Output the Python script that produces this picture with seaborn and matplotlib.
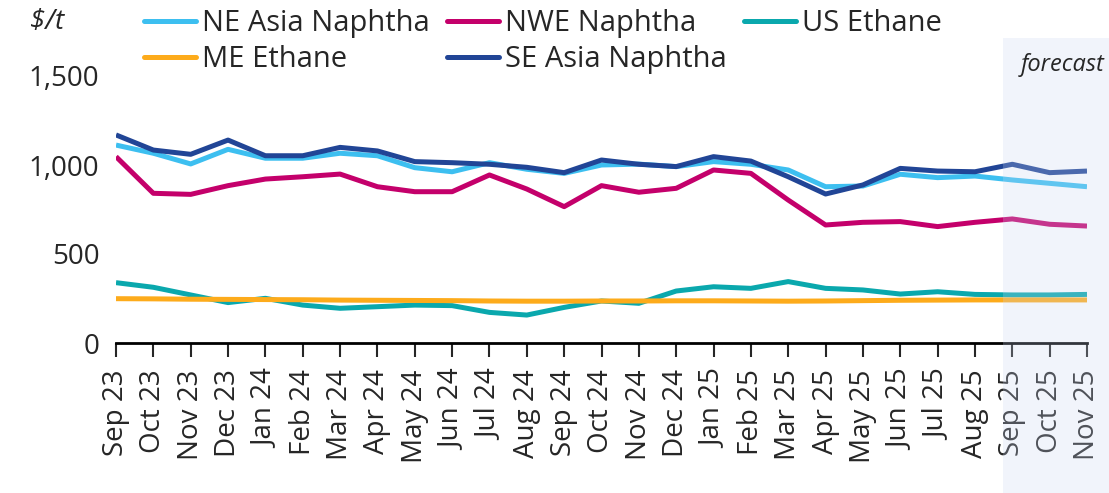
import pandas as pd
import matplotlib.pyplot as plt
import seaborn as sns
from matplotlib.lines import Line2D
from matplotlib.patches import Rectangle
from matplotlib.ticker import FuncFormatter

# -----------------------------
# Data ($/t)
# -----------------------------
months = ["Sep 23", "Oct 23", "Nov 23", "Dec 23", "Jan 24", "Feb 24", "Mar 24",
          "Apr 24", "May 24", "Jun 24", "Jul 24", "Aug 24", "Sep 24", "Oct 24",
          "Nov 24", "Dec 24", "Jan 25", "Feb 25", "Mar 25", "Apr 25", "May 25",
          "Jun 25", "Jul 25", "Aug 25", "Sep 25", "Oct 25", "Nov 25"]

ne_asia_naphtha = [1112, 1066, 1006, 1088, 1038, 1038, 1066, 1052, 985, 962, 1013, 976, 953,
                   1000, 1005, 991, 1019, 1004, 972, 878, 882, 948, 929, 938, 916, 897, 878]
nwe_naphtha = [1047, 841, 835, 884, 921, 934, 949, 878, 850, 850, 944, 865, 766,
               884, 847, 869, 972, 953, 803, 663, 678, 682, 654, 678, 697, 667, 657]
us_ethane = [339, 313, 270, 227, 251, 213, 195, 204, 213, 210, 172, 157, 200,
             236, 223, 292, 316, 307, 345, 307, 298, 275, 288, 273, 270, 270, 273]
me_ethane = [249, 248, 246, 245, 244, 243, 241, 240, 239, 238, 236, 235, 235,
             236, 236, 237, 237, 236, 235, 236, 238, 240, 241, 242, 242, 242, 242]
se_asia_naphtha = [1169, 1084, 1060, 1140, 1052, 1052, 1099, 1079, 1019, 1013, 1004, 987, 957,
                   1028, 1004, 991, 1047, 1022, 934, 837, 888, 981, 966, 962, 1004, 957, 966]

series_names = ["NE Asia Naphtha", "NWE Naphtha", "US Ethane", "ME Ethane", "SE Asia Naphtha"]
colors = ["#3dbff0", "#c4006b", "#0aa8ad", "#fdab1b", "#214596"]

wide = pd.DataFrame({
    "month": months,
    "NE Asia Naphtha": ne_asia_naphtha,
    "NWE Naphtha": nwe_naphtha,
    "US Ethane": us_ethane,
    "ME Ethane": me_ethane,
    "SE Asia Naphtha": se_asia_naphtha,
})
wide["idx"] = range(len(months))
df = wide.melt(id_vars=["month", "idx"], value_vars=series_names,
               var_name="series", value_name="price")

# -----------------------------
# Style
# -----------------------------
sns.set_style("white")
plt.rcParams["font.family"] = ["Open Sans", "DejaVu Sans"]
plt.rcParams["lines.solid_capstyle"] = "butt"

fig = plt.figure(figsize=(11.09, 4.93), dpi=100)
ax = fig.add_axes([116 / 1109, 1 - 343 / 493, (1087 - 116) / 1109, (343 - 76) / 493])

sns.lineplot(data=df, x="idx", y="price", hue="series", hue_order=series_names,
             palette=colors, linewidth=3.6, ax=ax, legend=False)

ax.set_xlim(0, len(months) - 1)
ax.set_ylim(0, 1500)
ax.set_xticks(range(len(months)))
ax.set_xticklabels(months, rotation=90, fontsize=20)
ax.set_yticks([0, 500, 1000, 1500])
ax.yaxis.set_major_formatter(FuncFormatter(lambda v, p: f"{int(v):,}"))
ax.tick_params(axis="y", length=0, labelsize=20, pad=12)
ax.tick_params(axis="x", length=10, width=1.5, direction="out", pad=9, bottom=True)
ax.set_xlabel("")
ax.set_ylabel("")
for side in ["left", "right", "top"]:
    ax.spines[side].set_visible(False)
ax.spines["bottom"].set_linewidth(2)
ax.spines["bottom"].set_color("black")

# legend (column-major fill -> reorder handles)
color_of = dict(zip(series_names, colors))
order = ["NE Asia Naphtha", "ME Ethane", "NWE Naphtha", "SE Asia Naphtha", "US Ethane"]
handles = [Line2D([], [], color=color_of[n], linewidth=3.6, solid_capstyle="round")
           for n in order]
fig.legend(handles, order, ncol=3, frameon=False, fontsize=21,
           loc="upper left", bbox_to_anchor=(144 / 1109, 1 - 9 / 493), borderpad=0,
           borderaxespad=0, handlelength=1.78, handletextpad=0.2, columnspacing=0.6,
           labelspacing=0.25)

fig.text(47 / 1109, 1 - 22 / 493, "$/t", fontsize=20, style="italic",
         ha="center", va="center")

# forecast shading
fx = 1003 / 1109
fig.patches.append(Rectangle((fx, 0), 1 - fx, 1 - 38 / 493, transform=fig.transFigure,
                             facecolor=(203 / 255, 215 / 255, 243 / 255), alpha=0.25,
                             edgecolor="none", zorder=10))
fig.text(1063 / 1109, 1 - 65 / 493, "forecast", fontsize=17, style="italic",
         ha="center", va="center", zorder=11)

fig.savefig("out.png", dpi=100)
